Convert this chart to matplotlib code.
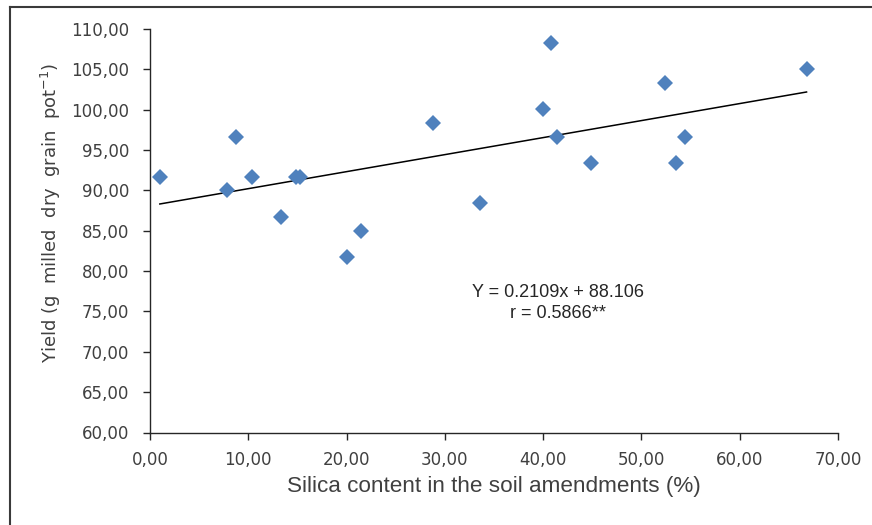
import numpy as np
import matplotlib
matplotlib.use("Agg")
import matplotlib.pyplot as plt
from matplotlib.ticker import FuncFormatter
from matplotlib.lines import Line2D

# Silica content (%) and yield
silica = [1.0, 7.8, 8.7, 10.4, 13.3, 14.9, 15.3, 20.0, 21.5, 28.8,
          33.6, 40.0, 40.8, 41.4, 44.9, 52.4, 53.5, 54.4, 66.8]
yield_g = [91.6, 90.0, 96.6, 91.6, 86.7, 91.6, 91.6, 81.8, 85.0, 98.4,
           88.4, 100.1, 108.3, 96.6, 93.4, 103.3, 93.4, 96.6, 105.1]

slope, intercept = 0.2109, 88.106
eq_text = "Y = 0.2109x + 88.106\nr = 0.5866**"

fig = plt.figure(figsize=(8.72, 5.25), dpi=100)
ax = fig.add_axes([150/872, 1 - 432.5/525, 688/872, 403.5/525])

ax.plot(silica, yield_g, 'D', color='#4F81BD', markersize=8.3,
        markeredgewidth=0, zorder=3)

# linear trendline over the data range
xs = np.array([min(silica), max(silica)])
ax.plot(xs, slope * xs + intercept, color='black', linewidth=1.1, zorder=2)

ax.text(41.5, 76.1, eq_text, ha='center', va='center', fontsize=13,
        family='Liberation Sans', color='#262626', linespacing=1.3)

ax.set_xlim(0, 70)
ax.set_ylim(60, 110)
ax.set_xticks(np.arange(0, 71, 10))
ax.set_yticks(np.arange(60, 111, 5))
comma = FuncFormatter(lambda v, p: f"{v:.2f}".replace('.', ','))
ax.xaxis.set_major_formatter(comma)
ax.yaxis.set_major_formatter(comma)

for side in ['top', 'right']:
    ax.spines[side].set_visible(False)
for side in ['left', 'bottom']:
    ax.spines[side].set_color('#262626')
    ax.spines[side].set_linewidth(1.0)
ax.tick_params(direction='out', length=5, width=1.0, color='#262626',
               labelsize=12, labelcolor='#404040')
ax.tick_params(axis='x', pad=8)
ax.tick_params(axis='y', pad=10)

ax.set_xlabel('Silica content in the soil amendments (%)', fontsize=16.2,
              family='Liberation Sans', color='#404040')
ax.xaxis.set_label_coords(0.5, -0.108)
ax.set_ylabel('Yield (g  milled  dry  grain  pot$^{-1}$)', fontsize=13,
              color='#404040')
ax.yaxis.set_label_coords(-0.126, 0.544)

# frame border (left and top visible in the reference)
fig.add_artist(Line2D([10/872, 10/872], [0, 1 - 7/525], color='#3a3a3a',
                      linewidth=1.5, transform=fig.transFigure))
fig.add_artist(Line2D([10/872, 1], [1 - 7/525, 1 - 7/525], color='#3a3a3a',
                      linewidth=1.5, transform=fig.transFigure))

fig.savefig('out.png', dpi=100)
